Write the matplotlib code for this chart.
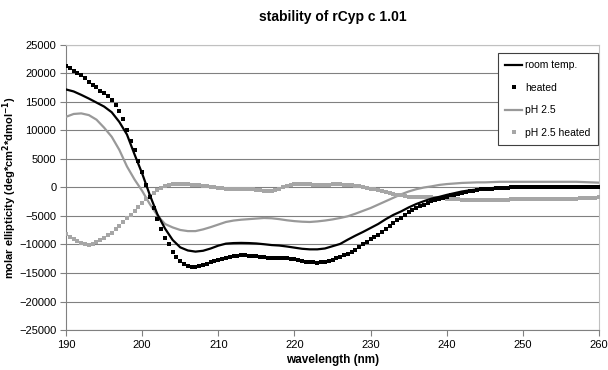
import numpy as np
import matplotlib.pyplot as plt

plt.rcParams['font.family'] = ['Liberation Sans', 'DejaVu Sans']

# wavelength grids (nm)
wl = np.arange(190, 261, 1)
wl_fine = np.arange(190, 260.5, 0.5)

# room temp. (solid black), 1 nm steps
room_temp = [
    17200, 16850, 16250, 15600, 14900, 14200, 13200, 11500, 9300, 5800,
    2450, -1300, -4700, -7200, -9200, -10500, -11050, -11250, -11100, -10700,
    -10200, -9850, -9750, -9720, -9750, -9820, -9950, -10100, -10180, -10350,
    -10550, -10750, -10850, -10850, -10700, -10300, -9900, -9150, -8450, -7800,
    -7100, -6400, -5550, -4800, -4200, -3500, -2900, -2400, -1950, -1650,
    -1300, -1000, -700, -500, -350, -200, -100, 0, 0, 50,
    50, 50, 50, 50, 50, 50, 50, 50, 50, 50,
    50,
]

# pH 2.5 (solid grey), 1 nm steps
ph25 = [
    12400, 12900, 13000, 12700, 11900, 10500, 8900, 6600, 3700, 1400,
    -600, -2900, -4900, -6400, -7000, -7450, -7650, -7650, -7350, -6950,
    -6500, -6050, -5800, -5650, -5550, -5450, -5350, -5400, -5550, -5750,
    -5900, -6000, -6050, -5950, -5800, -5600, -5350, -5050, -4600, -4100,
    -3600, -3000, -2400, -1800, -1200, -700, -300, 0, 200, 450,
    600, 700, 800, 850, 900, 900, 950, 1000, 1000, 1000,
    1000, 1000, 1000, 1000, 1000, 1000, 1000, 1000, 950, 900,
    850,
]

# heated (black squares), 0.5 nm steps
heated = [
    21400, 20950, 20500, 20100, 19650, 19150, 18500, 18050, 17600, 17000,
    16500, 16000, 15400, 14500, 13500, 12000, 10100, 8200, 6500, 4600,
    2800, 500, -1700, -3600, -5500, -7200, -8800, -10000, -11300, -12200,
    -12900, -13400, -13750, -13900, -13900, -13800, -13650, -13400, -13150, -12900,
    -12700, -12500, -12300, -12150, -12000, -11950, -11900, -11900, -11950, -12000,
    -12050, -12150, -12250, -12300, -12300, -12300, -12300, -12350, -12400, -12500,
    -12600, -12750, -12900, -13000, -13100, -13150, -13200, -13150, -13100, -12900,
    -12700, -12450, -12200, -11900, -11600, -11250, -10900, -10450, -10000, -9550,
    -9100, -8750, -8400, -7850, -7300, -6750, -6200, -5750, -5300, -4800,
    -4300, -3950, -3600, -3300, -3000, -2700, -2400, -2200, -2000, -1800,
    -1600, -1400, -1250, -1100, -950, -800, -650, -550, -450, -350,
    -300, -250, -200, -150, -150, -100, -50, 0, 0, 50,
    50, 100, 100, 100, 100, 100, 100, 50, 50, 0,
    0, 0, 0, 0, 0, 0, 0, 0, 0, 0,
    0,
]

# pH 2.5 heated (grey squares), 0.5 nm steps
ph25_heated = [
    -8100, -8650, -9100, -9450, -9800, -10000, -10100, -9900, -9600, -9250,
    -8900, -8400, -7900, -7350, -6800, -6100, -5400, -4750, -4100, -3400,
    -2700, -2100, -1500, -1000, -500, -150, 200, 400, 550, 600,
    650, 600, 550, 500, 450, 400, 300, 200, 100, 0,
    -50, -100, -200, -250, -300, -300, -250, -250, -250, -300,
    -400, -500, -550, -550, -550, -400, -200, 50, 300, 500,
    650, 650, 650, 600, 550, 500, 450, 450, 450, 500,
    550, 550, 550, 500, 450, 400, 350, 250, 100, -50,
    -200, -300, -450, -600, -750, -900, -1100, -1250, -1400, -1500,
    -1600, -1650, -1650, -1700, -1700, -1700, -1750, -1800, -1850, -1900,
    -1950, -2000, -2050, -2100, -2200, -2200, -2200, -2200, -2150, -2150,
    -2150, -2200, -2200, -2200, -2200, -2200, -2150, -2100, -2100, -2050,
    -2050, -2000, -2000, -1950, -1950, -1950, -1950, -1950, -1950, -1950,
    -1950, -1950, -1950, -1950, -1950, -1900, -1900, -1850, -1800, -1800,
    -1750,
]

labels = ['room temp.', 'heated', 'pH 2.5', 'pH 2.5 heated']
yticks = np.arange(-25000, 25001, 5000)
xticks = np.arange(190, 261, 10)

fig = plt.figure(figsize=(6.08, 3.70), dpi=100)
ax = fig.add_axes([0.1086, 0.1081, 0.8766, 0.7703])

ax.plot(wl, room_temp, color='black', lw=1.6, label=labels[0], zorder=4)
ax.plot(wl_fine, heated, ls='none', marker='s', ms=2.3, mew=0, color='black',
        label=labels[1], zorder=5)
ax.plot(wl, ph25, color='#999999', lw=1.6, label=labels[2], zorder=3)
ax.plot(wl_fine, ph25_heated, ls='none', marker='s', ms=2.3, mew=0,
        color='#a6a6a6', label=labels[3], zorder=3)

ax.set_xlim(190, 260)
ax.set_ylim(-25000, 25000)
ax.set_xticks(xticks)
ax.set_yticks(yticks)
ax.tick_params(labelsize=8, length=4, color='#808080', pad=3)
ax.grid(axis='y', color='#808080', lw=0.8)
ax.set_axisbelow(True)
for side in ['left', 'bottom']:
    ax.spines[side].set_color('#808080')
for side in ['top', 'right']:
    ax.spines[side].set_color('#c0c0c0')

ax.set_title('stability of rCyp c 1.01', fontsize=10, fontweight='bold', pad=17)
ax.set_xlabel('wavelength (nm)', fontsize=8.5, fontweight='bold', labelpad=3)
ax.set_ylabel('molar ellipticity (deg*cm$^\\mathbf{2}$*dmol$^\\mathbf{-1}$)',
              fontsize=8, fontweight='bold')
ax.yaxis.set_label_coords(-0.088, 0.5)

leg = ax.legend(loc='upper right', bbox_to_anchor=(0.998, 0.972),
                borderaxespad=0, fontsize=7.5, fancybox=False, framealpha=1,
                edgecolor='#404040', handlelength=1.6, handletextpad=0.3,
                labelspacing=1.2, borderpad=0.7, markerscale=1.1)
leg.get_frame().set_linewidth(0.8)

fig.savefig('out.png', dpi=100)
